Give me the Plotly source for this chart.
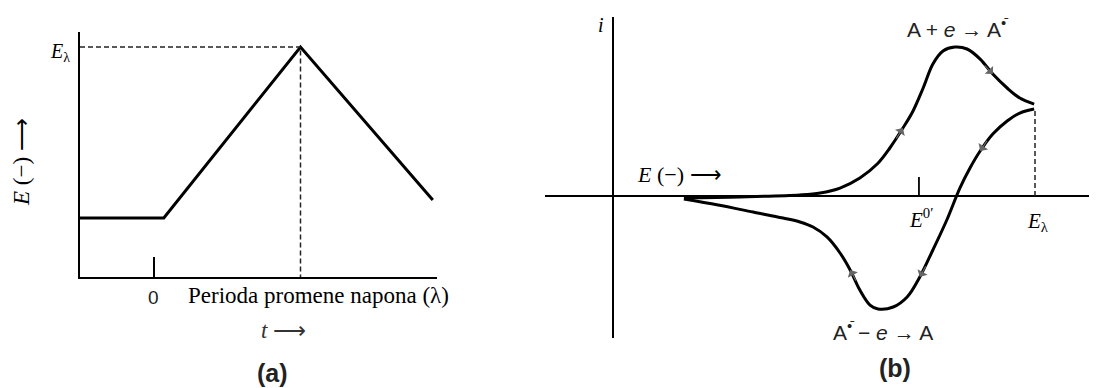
import math
import plotly.graph_objects as go

# ---------------- data ----------------
# Panel (a): potential waveform E(t)
ramp_t = [-0.5, 0.07, 1.0, 1.9]
ramp_E = [0.257, 0.257, 1.0, 0.335]
t_lambda = 1.0
E_lambda_a = 1.0
tick_t = [0]
tick_t_text = ["0"]

# Panel (b): cyclic voltammogram i(E)
fwd_E = [0.168, 0.301, 0.443, 0.491, 0.538, 0.585, 0.626, 0.656, 0.687, 0.711,
         0.735, 0.758, 0.782, 0.810, 0.839, 0.870, 0.900, 0.934, 0.964, 0.998]
fwd_i = [-0.012, -0.006, 0.007, 0.020, 0.053, 0.120, 0.213, 0.320, 0.453, 0.567,
         0.720, 0.880, 0.967, 0.993, 0.980, 0.913, 0.813, 0.720, 0.653, 0.613]
rev_E = [0.998, 0.964, 0.934, 0.900, 0.870, 0.846, 0.822, 0.791, 0.758, 0.727,
         0.697, 0.664, 0.628, 0.609, 0.585, 0.562, 0.538, 0.507, 0.474, 0.443,
         0.403, 0.332, 0.249, 0.168]
rev_i = [0.580, 0.553, 0.500, 0.413, 0.300, 0.187, 0.053, -0.160, -0.360, -0.540,
         -0.673, -0.740, -0.753, -0.727, -0.627, -0.493, -0.380, -0.273, -0.207, -0.173,
         -0.147, -0.107, -0.060, -0.020]
E0_b = 0.725
E_lambda_b = 1.0
fwd_arrow_idx = [8, 16]
rev_arrow_idx = [4, 9, 15]

# ---------------- layout geometry ----------------
OFF = 8                      # default page body margin
W, H = 1097 - OFF, 388 - OFF
SERIF = "Liberation Serif, Times New Roman, serif"
SANS = "Liberation Sans, Arial, sans-serif"

def px(x):
    return (x - OFF) / W

def py(y):
    return 1 - (y - OFF) / H

# pixel scales (reference picture) for each panel
SXA, SYA = 147.0, 230.0
SXB, SYB = 422.0, 150.0

fig = go.Figure()

# panel (a)
fig.add_trace(go.Scatter(x=ramp_t, y=ramp_E, mode="lines",
                         line=dict(color="black", width=3), xaxis="x", yaxis="y",
                         hoverinfo="skip"))
fig.add_trace(go.Scatter(x=[ramp_t[0], t_lambda, t_lambda], y=[E_lambda_a, E_lambda_a, 0],
                         mode="lines", line=dict(color="#222", width=1.5, dash="5px,3px"),
                         xaxis="x", yaxis="y", hoverinfo="skip"))

# panel (b)
fig.add_trace(go.Scatter(x=fwd_E, y=fwd_i, mode="lines",
                         line=dict(color="black", width=3, shape="spline", smoothing=1.0),
                         xaxis="x2", yaxis="y2", hoverinfo="skip"))
fig.add_trace(go.Scatter(x=rev_E, y=rev_i, mode="lines",
                         line=dict(color="black", width=3, shape="spline", smoothing=1.0),
                         xaxis="x2", yaxis="y2", hoverinfo="skip"))
fig.add_trace(go.Scatter(x=[E_lambda_b, E_lambda_b], y=[0, rev_i[0]], mode="lines",
                         line=dict(color="#222", width=1.5, dash="5px,3px"),
                         xaxis="x2", yaxis="y2", hoverinfo="skip"))
fig.add_trace(go.Scatter(x=[E0_b, E0_b], y=[0, 0.127], mode="lines",
                         line=dict(color="black", width=1.8),
                         xaxis="x2", yaxis="y2", hoverinfo="skip"))

annotations = []

def arrow_on(xs, ys, k, L=14):
    hx, hy = xs[k], ys[k]
    dx = (xs[k + 1] - xs[k - 1]) * SXB
    dy = -(ys[k + 1] - ys[k - 1]) * SYB
    n = math.hypot(dx, dy)
    ux, uy = dx / n, dy / n
    annotations.append(dict(x=hx, y=hy, ax=-L * ux, ay=-L * uy, xref="x2", yref="y2",
                            axref="pixel", ayref="pixel", text="", showarrow=True,
                            arrowhead=1, arrowsize=1.6, arrowwidth=1.2,
                            arrowcolor="#666"))

for k in fwd_arrow_idx:
    arrow_on(fwd_E, fwd_i, k)
for k in rev_arrow_idx:
    arrow_on(rev_E, rev_i, k)

def txt(x, y, text, font, size, color="black", **kw):
    d = dict(x=px(x), y=py(y), xref="paper", yref="paper", text=text,
             showarrow=False, font=dict(family=font, size=size, color=color),
             xanchor="center", yanchor="middle")
    d.update(kw)
    annotations.append(d)

# panel (a) texts
txt(60, 52, "<i>E</i><sub>λ</sub>", SERIF, 20)
txt(22, 162, "<i>E</i> (−) ⟶", SERIF, 23, textangle=-90)
txt(153, 297, "0", SANS, 19, color="#222")
txt(318, 295, "Perioda promene napona (λ)", SERIF, 23)
txt(283, 330, "<i>t</i> ⟶", SERIF, 23, color="#333")
txt(272, 373, "<b>(a)</b>", SANS, 25, color="#222")

# panel (b) texts
txt(601, 25, "<i>i</i>", SERIF, 20)
txt(679, 174, "<i>E</i> (−) ⟶", SERIF, 22)
txt(957, 28, "A + <i>e</i> → A<sup>•̄</sup>", SANS, 21, color="#222")
txt(883, 331, "A<sup>•̄</sup> − <i>e</i> → A", SANS, 21, color="#222")
txt(921, 218, "<i>E</i><sup>0′</sup>", SERIF, 21)
txt(1038, 222, "<i>E</i><sub>λ</sub>", SERIF, 21)
txt(895, 368, "<b>(b)</b>", SANS, 25, color="#222")

# axis ranges mapped to pixel geometry of the reference
xa_dom = [px(80), px(437)]
ya_dom = [py(277), py(32)]
xa_rng = [-0.5, -0.5 + (437 - 80) / SXA]
ya_rng = [0, (277 - 32) / SYA]

xb_dom = [px(545), 1.0]
yb_dom = [py(338), py(17)]
xb_rng = [(545 - 613) / SXB, (1097 - 613) / SXB]
yb_rng = [(196 - 338) / SYB, (196 - 17) / SYB]

fig.update_layout(
    width=W, height=H, margin=dict(l=0, r=0, t=0, b=0),
    paper_bgcolor="white", plot_bgcolor="white", showlegend=False,
    xaxis=dict(domain=xa_dom, range=xa_rng, showgrid=False, zeroline=False,
               showline=True, linecolor="black", linewidth=2,
               tickvals=tick_t, ticktext=tick_t_text, ticks="inside", ticklen=20,
               tickwidth=2, tickcolor="black", showticklabels=False, anchor="y"),
    yaxis=dict(domain=ya_dom, range=ya_rng, showgrid=False, zeroline=False,
               showline=True, linecolor="black", linewidth=2, showticklabels=False,
               ticks="", anchor="x"),
    xaxis2=dict(domain=xb_dom, range=xb_rng, showgrid=False, zeroline=True,
                zerolinecolor="black", zerolinewidth=2, showline=False,
                showticklabels=False, ticks="", anchor="y2"),
    yaxis2=dict(domain=yb_dom, range=yb_rng, showgrid=False, zeroline=True,
                zerolinecolor="black", zerolinewidth=2, showline=False,
                showticklabels=False, ticks="", anchor="x2"),
    annotations=annotations,
)

fig.write_html("out.html")
